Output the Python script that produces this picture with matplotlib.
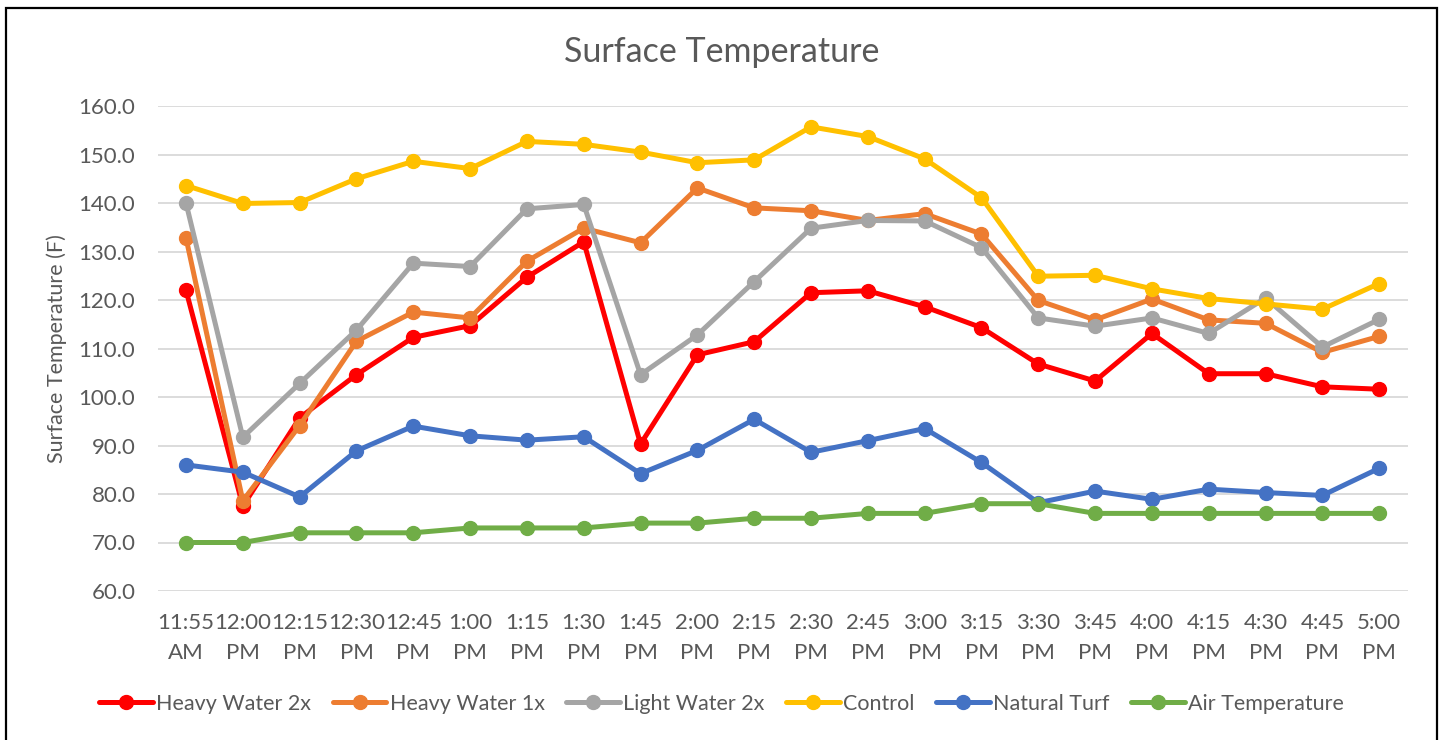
import matplotlib.pyplot as plt
from matplotlib.patches import Rectangle

plt.rcParams['font.family'] = ['Lato', 'DejaVu Sans']

times = ['11:55\nAM', '12:00\nPM', '12:15\nPM', '12:30\nPM', '12:45\nPM', '1:00\nPM',
         '1:15\nPM', '1:30\nPM', '1:45\nPM', '2:00\nPM', '2:15\nPM', '2:30\nPM',
         '2:45\nPM', '3:00\nPM', '3:15\nPM', '3:30\nPM', '3:45\nPM', '4:00\nPM',
         '4:15\nPM', '4:30\nPM', '4:45\nPM', '5:00\nPM']

heavy_2x = [122.0, 77.5, 95.7, 104.6, 112.3, 114.7, 124.7, 132.0, 90.3, 108.7, 111.4,
            121.5, 121.9, 118.6, 114.3, 106.8, 103.3, 113.1, 104.8, 104.8, 102.1, 101.6]
heavy_1x = [132.8, 78.6, 94.1, 111.5, 117.5, 116.3, 128.0, 134.8, 131.8, 143.1, 139.0,
            138.4, 136.4, 137.8, 133.6, 119.9, 115.9, 120.2, 115.9, 115.2, 109.2, 112.5]
light_2x = [140.0, 91.7, 102.8, 113.8, 127.6, 126.9, 138.8, 139.7, 104.6, 112.8, 123.8,
            134.8, 136.4, 136.3, 130.8, 116.3, 114.6, 116.3, 113.1, 120.4, 110.3, 116.0]
control = [143.6, 139.9, 140.1, 145.0, 148.6, 147.1, 152.7, 152.1, 150.5, 148.3, 148.9,
           155.7, 153.7, 149.1, 141.1, 124.9, 125.1, 122.3, 120.3, 119.2, 118.1, 123.4]
natural_turf = [86.0, 84.5, 79.4, 88.9, 94.0, 92.0, 91.1, 91.8, 84.2, 89.0, 95.4,
                88.6, 91.0, 93.5, 86.5, 78.2, 80.6, 78.9, 81.0, 80.3, 79.7, 85.3]
air_temp = [70, 70, 72, 72, 72, 73, 73, 73, 74, 74, 75,
            75, 76, 76, 78, 78, 76, 76, 76, 76, 76, 76]

series = [
    ('Heavy Water 2x', heavy_2x, '#FF0000'),
    ('Heavy Water 1x', heavy_1x, '#ED7D31'),
    ('Light Water 2x', light_2x, '#A5A5A5'),
    ('Control', control, '#FFC000'),
    ('Natural Turf', natural_turf, '#4472C4'),
    ('Air Temperature', air_temp, '#70AD47'),
]

text_color = '#595959'

fig = plt.figure(figsize=(14.43, 7.40), dpi=100)
ax = fig.add_axes([157.6 / 1443, 149 / 740, 1250 / 1443, 485 / 740])

# chart border like the Excel chart area
fig.patches.append(Rectangle((6 / 1443, -0.01), 1431 / 1443, (740 - 8) / 740 + 0.01,
                             transform=fig.transFigure, fill=False,
                             edgecolor='black', linewidth=1.6))

x = list(range(len(times)))
for name, vals, color in series:
    ax.plot(x, vals, color=color, linewidth=3.6, marker='o', markersize=10,
            label=name, solid_capstyle='round')

ax.set_xlim(-0.5, len(times) - 0.5)
ax.set_ylim(60, 160)
ax.set_yticks(range(60, 161, 10))
ax.set_yticklabels([f'{v:.1f}' for v in range(60, 161, 10)])
ax.set_xticks(x)
ax.set_xticklabels(times, linespacing=1.62)

ax.grid(axis='y', color='#D9D9D9', linewidth=1.3)
ax.set_axisbelow(True)
for s in ax.spines.values():
    s.set_visible(False)
ax.tick_params(axis='both', length=0, labelsize=16, colors=text_color)
ax.tick_params(axis='y', pad=16)
ax.tick_params(axis='x', pad=16)

ax.set_ylabel('Surface Temperature (F)', fontsize=15.5, color=text_color, labelpad=8)
fig.suptitle('Surface Temperature', y=1 - 52 / 740, va='center',
             fontsize=24.5, color=text_color)

leg = fig.legend(loc='center', bbox_to_anchor=(0.5, 1 - 704 / 740), ncol=6,
                 frameon=False, fontsize=15.5, handlelength=2.5, handletextpad=0.15,
                 columnspacing=1.0, labelcolor=text_color)

plt.savefig('out.png', dpi=100)
